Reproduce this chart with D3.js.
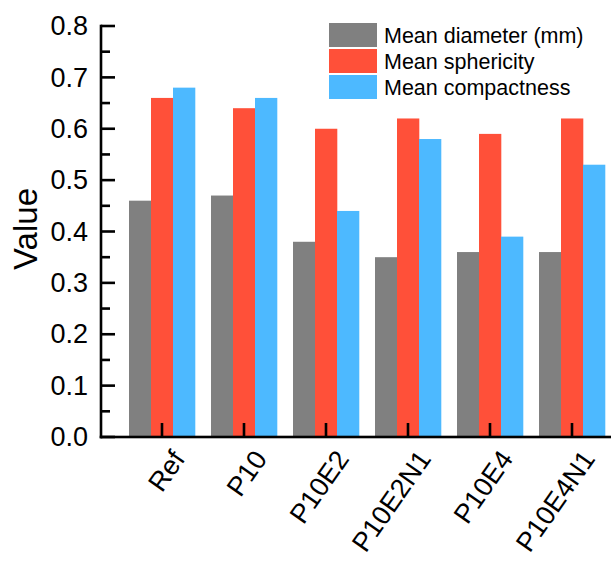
<!DOCTYPE html>
<html><head><meta charset="utf-8">
<script src="https://cdn.jsdelivr.net/npm/d3@7"></script>
<style>body{margin:0;background:#fff}svg{display:block}text{font-family:"Liberation Sans",Arial,sans-serif}</style>
</head><body><svg id="c" width="611" height="563"></svg>
<script>
const categories = ["Ref","P10","P10E2","P10E2N1","P10E4","P10E4N1"];
const seriesNames = ["Mean diameter (mm)","Mean sphericity","Mean compactness"];
const meanDiameter = [0.46,0.47,0.38,0.35,0.36,0.36];
const meanSphericity = [0.66,0.64,0.60,0.62,0.59,0.62];
const meanCompactness = [0.68,0.66,0.44,0.58,0.39,0.53];
const yTicks = [0,0.1,0.2,0.3,0.4,0.5,0.6,0.7,0.8];
const colors = ["#808080","#FF5039","#4DB9FF"];

const seriesValues = [meanDiameter, meanSphericity, meanCompactness];
const svg = d3.select("#c");
const y = d3.scaleLinear().domain([0,0.8]).range([437,26]);
const x = d3.scaleBand().domain(categories).range([121,613]).padding(0);
const xi = d3.scaleBand().domain(seriesNames).range([-33,33]).padding(0);

// bars
seriesNames.forEach((s,si)=>{
  svg.append("g").selectAll("rect").data(categories).join("rect")
    .attr("x",c=>x(c)+x.bandwidth()/2+xi(s))
    .attr("width",xi.bandwidth()+0.3)
    .attr("y",(c,i)=>y(seriesValues[si][i]))
    .attr("height",(c,i)=>y(0)-y(seriesValues[si][i]))
    .attr("fill",colors[si]);
});

// y axis labels via d3 axis
const ya = svg.append("g").attr("transform","translate(101,0)")
  .call(d3.axisLeft(y).tickValues(yTicks).tickFormat(d3.format(".1f")).tickSize(0).tickPadding(13));
ya.select(".domain").remove();
ya.selectAll(".tick text").attr("font-size",27).attr("fill","#000");

// axis frame and ticks as filled rects
const minor = yTicks.slice(0,-1).map(v=>v+0.05);
const lw = 2.6;
const ax = svg.append("g").attr("fill","#000");
ax.append("rect").attr("x",101-lw/2).attr("y",y(0.8)-lw/2).attr("width",lw).attr("height",y(0)-y(0.8)+lw);
ax.append("rect").attr("x",101-lw/2).attr("y",y(0)-lw/2).attr("width",611).attr("height",lw);
ax.selectAll(".ymaj").data(yTicks).join("rect").attr("class","ymaj")
  .attr("x",101).attr("y",d=>y(d)-lw/2).attr("width",14).attr("height",lw);
ax.selectAll(".ymin").data(minor).join("rect").attr("class","ymin")
  .attr("x",101).attr("y",d=>y(d)-lw/2).attr("width",9).attr("height",lw);
ax.selectAll(".xt").data(categories).join("rect").attr("class","xt")
  .attr("x",c=>x(c)+x.bandwidth()/2-lw/2).attr("y",y(0)-14).attr("width",lw).attr("height",14);

svg.append("g").selectAll("text").data(categories).join("text")
  .attr("transform",c=>`translate(${x(c)+x.bandwidth()/2+24},${y(0)+22}) rotate(-55)`)
  .attr("text-anchor","end").attr("font-size",27).attr("fill","#000").text(c=>c);

// y label
svg.append("text").attr("transform","translate(37,229) rotate(-90)")
  .attr("text-anchor","middle").attr("font-size",33).attr("fill","#000").text("Value");

// legend
const lg = svg.append("g");
seriesNames.forEach((s,i)=>{
  lg.append("rect").attr("x",329).attr("y",23+i*26).attr("width",48).attr("height",24).attr("fill",colors[i]);
  lg.append("text").attr("x",384).attr("y",43+i*26).attr("font-size",21.5).attr("fill","#000").text(s);
});
</script></body></html>
